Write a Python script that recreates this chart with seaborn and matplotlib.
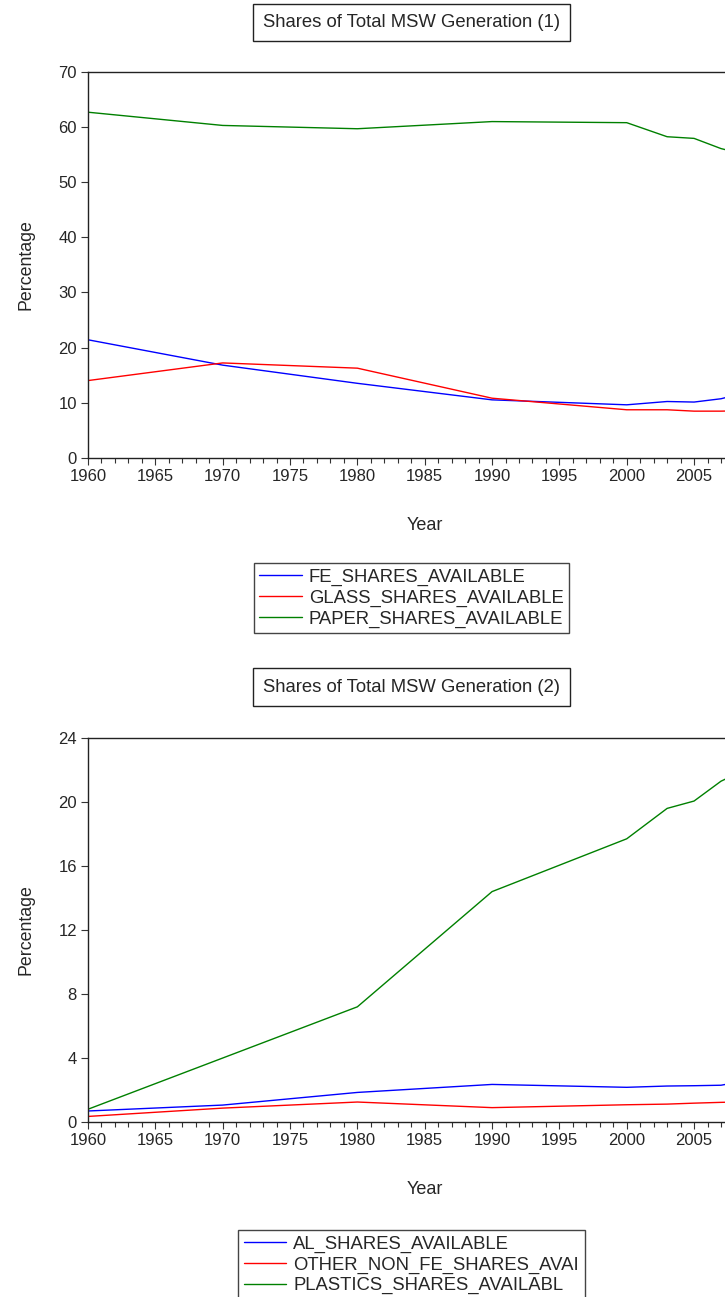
import pandas as pd
import matplotlib.pyplot as plt
import seaborn as sns
from matplotlib.ticker import MultipleLocator, FixedLocator

years = [1960, 1970, 1980, 1990, 2000, 2003, 2005, 2007, 2008]

# Chart 1
fe_shares = [21.4, 16.8, 13.5, 10.5, 9.6, 10.2, 10.1, 10.7, 11.3]
glass_shares = [14.0, 17.2, 16.25, 10.8, 8.7, 8.7, 8.45, 8.45, 8.5]
paper_shares = [62.7, 60.3, 59.7, 61.0, 60.8, 58.25, 57.95, 56.1, 55.5]

# Chart 2
al_shares = [0.69, 1.06, 1.85, 2.35, 2.17, 2.25, 2.27, 2.3, 2.45]
other_shares = [0.35, 0.87, 1.25, 0.9, 1.08, 1.12, 1.18, 1.23, 1.25]
plastics_shares = [0.8, 4.0, 7.2, 14.4, 17.7, 19.6, 20.06, 21.3, 21.7]

labels1 = ['FE_SHARES_AVAILABLE', 'GLASS_SHARES_AVAILABLE', 'PAPER_SHARES_AVAILABLE']
labels2 = ['AL_SHARES_AVAILABLE', 'OTHER_NON_FE_SHARES_AVAI', 'PLASTICS_SHARES_AVAILABL']
year_ticks = [1960, 1965, 1970, 1975, 1980, 1985, 1990, 1995, 2000, 2005]
colors = ['#0000ff', '#ff0000', '#008000']

sns.set_theme(style='ticks')
plt.rcParams['font.family'] = ['Liberation Sans', 'DejaVu Sans']
plt.rcParams['font.size'] = 12


def long_df(series, labels):
    rows = []
    for vals, lab in zip(series, labels):
        for y, v in zip(years, vals):
            rows.append({'Year': y, 'Percentage': v, 'series': lab})
    return pd.DataFrame(rows)


df1 = long_df([fe_shares, glass_shares, paper_shares], labels1)
df2 = long_df([al_shares, other_shares, plastics_shares], labels2)

fig = plt.figure(figsize=(7.25, 12.97), dpi=100)
ax1 = fig.add_axes([0.1214, 0.6471, 0.9288, 0.2974])
ax2 = fig.add_axes([0.1214, 0.1349, 0.9288, 0.2961])


def style_axes(ax, df, labels, ymax, ystep, title, ytitle, leg_top):
    sns.lineplot(data=df, x='Year', y='Percentage', hue='series', hue_order=labels,
                 palette=colors, linewidth=1.0, ax=ax, legend=False)
    ax.set_xlim(1960, 2010)
    ax.set_ylim(0, ymax)
    ax.xaxis.set_major_locator(FixedLocator(year_ticks))
    ax.xaxis.set_minor_locator(MultipleLocator(1))
    ax.yaxis.set_major_locator(MultipleLocator(ystep))
    ax.tick_params(axis='both', which='major', length=5, width=0.8, color='#333333',
                   labelsize=12, pad=3)
    ax.tick_params(axis='x', which='minor', length=3.5, width=0.8, color='#333333')
    for s in ax.spines.values():
        s.set_color('#222222')
        s.set_linewidth(1.0)
    ax.set_xlabel('Year', fontsize=13, labelpad=24)
    ax.set_ylabel('Percentage', fontsize=12.8, labelpad=17)
    fig.text(0.5676, ytitle, title, ha='center', va='center', fontsize=13.3,
             bbox=dict(boxstyle='square,pad=0.55', facecolor='white',
                       edgecolor='#222222', linewidth=1.0))
    handles = ax.get_lines()[:3]
    leg = fig.legend(handles, labels, loc='upper center', bbox_to_anchor=(0.5676, leg_top),
                     fontsize=13.3, frameon=True, fancybox=False, framealpha=1,
                     edgecolor='#444444', handlelength=2.3, handletextpad=0.38,
                     labelspacing=0.2, borderpad=0.3, borderaxespad=0)
    leg.get_frame().set_linewidth(1.0)


style_axes(ax1, df1, labels1, 70, 10, 'Shares of Total MSW Generation (1)', 0.9827, 0.5659)
style_axes(ax2, df2, labels2, 24, 4, 'Shares of Total MSW Generation (2)', 0.4703, 0.0517)

fig.savefig('out.png', dpi=100)
